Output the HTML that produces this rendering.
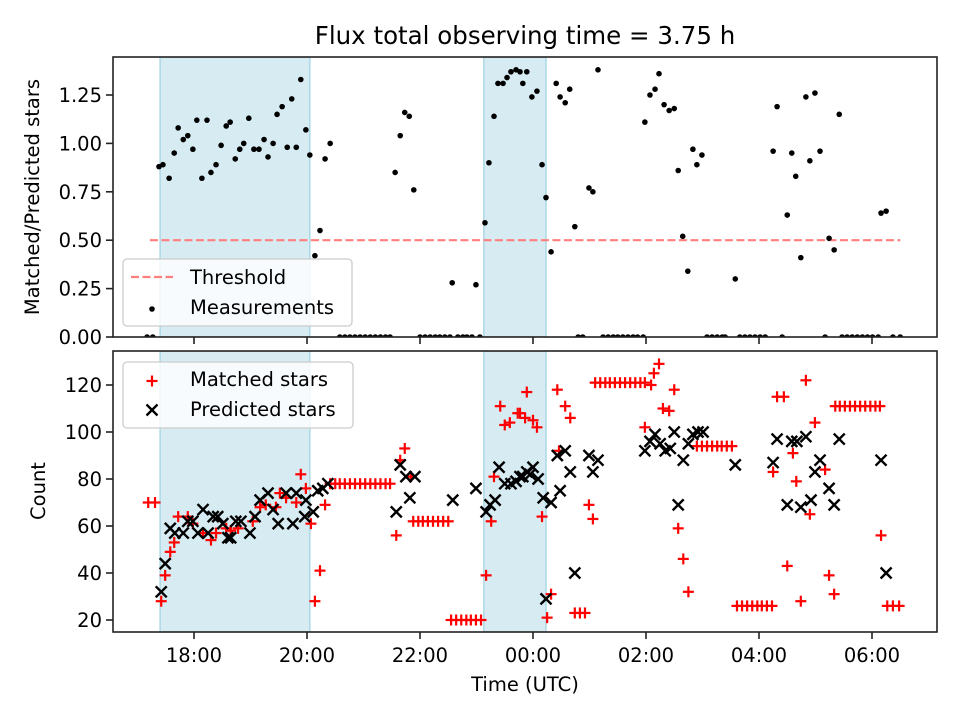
<!DOCTYPE html>
<html><head><meta charset="utf-8"><style>
body{margin:0;background:#fff;}
svg{display:block;font-family:"DejaVu Sans","Liberation Sans",sans-serif;}
</style></head><body>
<svg id="chart" width="960" height="720" viewBox="0 0 960 720" xmlns="http://www.w3.org/2000/svg"></svg>
<script>
// ---- data ----
const spanStarts = [17.4, 23.13];
const spanEnds = [20.05, 24.23];
const thresholdValue = 0.5;
const thresholdStart = 17.22;
const thresholdEnd = 30.5;
const ratioTimes = [17.17,17.27,17.38,17.45,17.56,17.65,17.72,17.81,17.89,17.98,18.05,18.14,18.23,18.30,18.39,18.48,18.57,18.64,18.73,18.81,18.88,18.97,19.06,19.15,19.24,19.31,19.40,19.47,19.56,19.65,19.73,19.81,19.89,19.98,20.05,20.14,20.23,20.32,20.41,
20.58,20.67,20.76,20.85,20.94,21.03,21.12,21.21,21.30,21.39,21.47,
21.56,21.65,21.73,21.81,21.89,
22.00,22.09,22.18,22.27,22.35,22.44,22.53,22.67,22.76,22.83,22.92,23.06,
22.57,22.99,23.15,23.22,23.31,23.38,23.47,23.54,23.61,23.70,23.77,23.82,23.89,23.98,24.07,24.16,24.23,24.32,24.41,24.48,24.57,24.65,24.74,
24.80,24.88,24.99,25.06,25.15,
25.24,25.33,25.42,25.50,25.59,25.68,25.77,25.85,25.95,
25.98,26.07,26.16,26.23,26.32,26.41,26.50,26.57,26.65,26.74,26.83,26.90,26.99,
27.08,27.17,27.26,27.35,27.40,27.66,27.75,27.84,27.93,28.02,28.11,28.41,
27.58,28.25,28.32,28.50,28.58,28.65,28.74,28.83,28.90,28.99,29.08,29.17,29.24,29.33,29.42,
29.47,29.56,29.65,29.74,29.83,29.92,30.01,30.11,30.37,30.50,30.16,30.25];
const ratioValues = [0,0,.88,.89,.82,.95,1.08,1.02,1.04,.97,1.12,.82,1.12,.85,.89,.99,1.09,1.11,.92,.97,1.00,1.13,.97,.97,1.02,.93,1.00,1.15,1.19,.98,1.23,.98,1.33,1.07,.94,.42,.55,.92,1.00,
0,0,0,0,0,0,0,0,0,0,0,
.85,1.04,1.16,1.14,.76,
0,0,0,0,0,0,0,0,0,0,0,0,
.28,.27,.59,.90,1.14,1.31,1.31,1.34,1.37,1.38,1.37,1.31,1.37,1.24,1.27,.89,.72,.44,1.31,1.24,1.21,1.28,.57,
0,0,.77,.75,1.38,
0,0,0,0,0,0,0,0,0,
1.11,1.25,1.28,1.36,1.20,1.17,1.18,.86,.52,.34,.97,.89,.94,
0,0,0,0,0,0,0,0,0,0,0,0,
.30,.96,1.19,.63,.95,.83,.41,1.24,.91,1.26,.96,0,.51,.45,1.15,
0,0,0,0,0,0,0,0,0,0,.64,.65];
const matchedTimes = [17.19,17.31,17.42,17.49,17.58,17.65,17.72,17.89,17.98,18.16,18.30,18.39,18.57,18.65,18.78,19.04,19.17,19.27,19.45,19.52,19.63,19.81,19.89,19.98,20.07,20.14,20.23,20.32,20.41,
20.50,20.58,20.67,20.76,20.85,20.94,21.03,21.12,21.21,21.30,21.39,21.47,
21.58,21.65,21.73,21.84,
21.88,21.97,22.05,22.14,22.23,22.32,22.41,22.50,
22.55,22.64,22.73,22.82,22.90,22.99,23.08,
23.17,23.26,23.31,23.42,23.50,23.59,23.73,23.77,23.86,23.89,24.00,24.07,24.16,24.25,24.32,24.43,24.46,24.57,24.66,24.74,24.83,24.92,24.99,25.06,
25.10,25.19,25.28,25.36,25.45,25.54,25.63,25.72,25.81,25.90,25.98,
26.09,26.14,26.23,26.30,26.41,26.50,25.98,26.57,26.66,26.75,
26.90,26.99,27.08,27.17,27.26,27.34,27.43,27.52,
27.61,27.70,27.79,27.88,27.97,28.05,28.14,28.23,
28.25,28.32,28.44,28.50,28.60,28.66,28.74,28.83,28.90,28.99,29.17,29.24,29.33,
29.35,29.43,29.52,29.61,29.70,29.79,29.88,29.97,30.06,30.14,
30.16,30.27,30.37,30.48];
const matchedCounts = [70,70,28,39,49,53,64,64,61,57,54,57,59,58,59,62,68,69,68,74,72,70,82,76,61,28,41,69,78,
78,78,78,78,78,78,78,78,78,78,78,78,
56,88,93,81,
62,62,62,62,62,62,62,62,
20,20,20,20,20,20,20,
39,62,81,111,103,104,108,108,106,117,105,102,64,21,31,118,92,111,106,23,23,23,69,63,
121,121,121,121,121,121,121,121,121,121,121,
120,125,129,110,109,118,102,59,46,32,
94,94,94,94,94,94,94,94,
26,26,26,26,26,26,26,26,
83,115,115,43,91,79,28,122,65,104,84,39,31,
111,111,111,111,111,111,111,111,111,111,
56,26,26,26];
const predictedTimes = [17.42,17.49,17.58,17.66,17.81,17.89,17.98,18.07,18.16,18.25,18.34,18.42,18.51,18.60,18.65,18.74,18.83,18.99,19.08,19.17,19.31,19.40,19.49,19.63,19.75,19.81,19.96,19.98,20.11,20.19,20.28,20.37,
21.58,21.65,21.75,21.82,21.91,22.58,22.99,23.17,23.24,23.33,23.40,23.50,23.61,23.70,23.82,23.95,23.77,23.89,24.00,24.09,24.18,24.32,24.23,24.43,24.57,24.66,24.48,24.74,24.99,25.15,25.06,
25.98,26.07,26.16,26.25,26.34,26.43,26.50,26.57,26.66,26.75,26.83,26.92,27.01,27.58,
28.25,28.32,28.50,28.58,28.67,28.74,28.83,28.92,28.99,29.08,29.24,29.33,29.42,30.16,30.25];
const predictedCounts = [32,44,59,57,57,62,62,57,67,57,64,64,61,55,55,62,62,57,64,71,74,67,61,74,61,74,64,71,66,75,76,78,
66,86,81,72,81,71,76,66,69,71,85,78,78,79,81,82,81,83,85,80,72,70,29,90,92,83,75,40,90,88,83,
92,96,99,95,92,93,100,69,88,95,99,100,100,86,
87,97,69,96,96,68,98,71,83,88,76,69,97,88,40];
const xTickHours = [18,20,22,24,26,28,30];
const xTickLabels = ["18:00","20:00","22:00","00:00","02:00","04:00","06:00"];
const topTicks = [0,0.25,0.5,0.75,1.0,1.25];
const topTickLabels = ["0.00","0.25","0.50","0.75","1.00","1.25"];
const botTicks = [20,40,60,80,100,120];
const botTickLabels = ["20","40","60","80","100","120"];

// ---- layout ----
const L=113, R=937, T1=57, B1=337, T2=351, B2=632;
const xs = h => 194 + (h-18)*56.5;
const y1 = v => 337 - v*193.6;
const y2 = c => 620 - (c-20)*2.35;
const NS="http://www.w3.org/2000/svg";
const svg=document.getElementById('chart');
function mk(tag, attrs, parent){const e=document.createElementNS(NS,tag);for(const k in attrs)e.setAttribute(k,attrs[k]);(parent||svg).appendChild(e);return e;}

// title
let t=mk('text',{x:525,y:44,'text-anchor':'middle','font-size':'24.5'});
t.textContent='Flux total observing time = 3.75 h';



function panel(top,bottom,name){
  const g=mk('g',{});
  
  
  const cp=mk('clipPath',{id:'c'+name},g);
  mk('rect',{x:L,y:top,width:R-L,height:bottom-top},cp);
  const inner=mk('g',{'clip-path':'url(#c'+name+')'},g);
  for(let i=0;i<spanStarts.length;i++){
    const r=mk('rect',{x:xs(spanStarts[i]),y:top,width:xs(spanEnds[i])-xs(spanStarts[i]),height:bottom-top,fill:'#add8e6','fill-opacity':'0.5',stroke:'#add8e6','stroke-width':'1.5'},inner);
    
    
  }
  return {g,inner};
}
function frame(g,top,bottom,ticks,labels,yf,name){
  const f=mk('rect',{x:L,y:top,width:R-L,height:bottom-top,fill:'none',stroke:'#222','stroke-width':'1.6'},g);
  
  
  ticks.forEach((v,i)=>{
    const y=yf(v);
    mk('line',{x1:L-7,x2:L,y1:y,y2:y,stroke:'#222','stroke-width':'1.6'},g);
    const tl=mk('text',{x:L-11,y:y+7,'text-anchor':'end','font-size':'19.5'},g);
    tl.textContent=labels[i];
    
    
  });
  xTickHours.forEach(h=>{mk('line',{x1:xs(h),x2:xs(h),y1:bottom,y2:bottom+7,stroke:'#222','stroke-width':'1.6'},g);});
}

// top panel
const p1=panel(T1,B1,'ratio-panel');
const th=mk('line',{x1:xs(thresholdStart),x2:xs(thresholdEnd),y1:y1(thresholdValue),y2:y1(thresholdValue),stroke:'#ff7f7f','stroke-width':'2.2','stroke-dasharray':'8,3.5'},p1.inner);


ratioTimes.forEach((h,i)=>{
  const c=mk('circle',{cx:xs(h),cy:y1(ratioValues[i]),r:2.8,fill:'#000'},p1.inner);
  
  
});
frame(p1.g,T1,B1,topTicks,topTickLabels,y1,'ratio');

// bottom panel
const p2=panel(T2,B2,'count-panel');
function plus(x,y,par){const g=mk('g',{stroke:'#ff0000','stroke-width':'2.2'},par);mk('line',{x1:x-5.5,x2:x+5.5,y1:y,y2:y},g);mk('line',{x1:x,x2:x,y1:y-5.5,y2:y+5.5},g);return g;}
function cross(x,y,par){const g=mk('g',{stroke:'#000','stroke-width':'2.4'},par);mk('line',{x1:x-5.5,x2:x+5.5,y1:y-5.5,y2:y+5.5},g);mk('line',{x1:x-5.5,x2:x+5.5,y1:y+5.5,y2:y-5.5},g);return g;}
matchedTimes.forEach((h,i)=>{
  const m=plus(xs(h),y2(matchedCounts[i]),p2.inner);
  
  
});
predictedTimes.forEach((h,i)=>{
  const m=cross(xs(h),y2(predictedCounts[i]),p2.inner);
  
  
});
frame(p2.g,T2,B2,botTicks,botTickLabels,y2,'count');
xTickHours.forEach((h,i)=>{
  const tl=mk('text',{x:xs(h),y:B2+30,'text-anchor':'middle','font-size':'19.5'});
  tl.textContent=xTickLabels[i];
  
  
});

// axis titles
let a=mk('text',{x:525,y:691,'text-anchor':'middle','font-size':'19.5'});
a.textContent='Time (UTC)';


a=mk('text',{x:0,y:0,'text-anchor':'middle','font-size':'19.5',transform:'translate(39,197) rotate(-90)'});
a.textContent='Matched/Predicted stars';


a=mk('text',{x:0,y:0,'text-anchor':'middle','font-size':'19.5',transform:'translate(45,491) rotate(-90)'});
a.textContent='Count';



// legends
const lg1=mk('g',{});


mk('rect',{x:123,y:259,width:229,height:67,rx:4,fill:'#fff','fill-opacity':'0.8',stroke:'#ccc','stroke-width':'1.3'},lg1);
mk('line',{x1:131,x2:173,y1:277,y2:277,stroke:'#ff7f7f','stroke-width':'2.2','stroke-dasharray':'8,3.5'},lg1);
let lt=mk('text',{x:190,y:284,'font-size':'19.5'},lg1);lt.textContent='Threshold';


mk('circle',{cx:152,cy:309,r:2.8,fill:'#000'},lg1);
lt=mk('text',{x:190,y:314,'font-size':'19.5'},lg1);lt.textContent='Measurements';



const lg2=mk('g',{});


mk('rect',{x:123,y:362,width:230,height:66,rx:4,fill:'#fff','fill-opacity':'0.8',stroke:'#ccc','stroke-width':'1.3'},lg2);
plus(152,381,lg2);
lt=mk('text',{x:190,y:386,'font-size':'19.5'},lg2);lt.textContent='Matched stars';


cross(152,410,lg2);
lt=mk('text',{x:190,y:416,'font-size':'19.5'},lg2);lt.textContent='Predicted stars';


</script>
</body></html>
